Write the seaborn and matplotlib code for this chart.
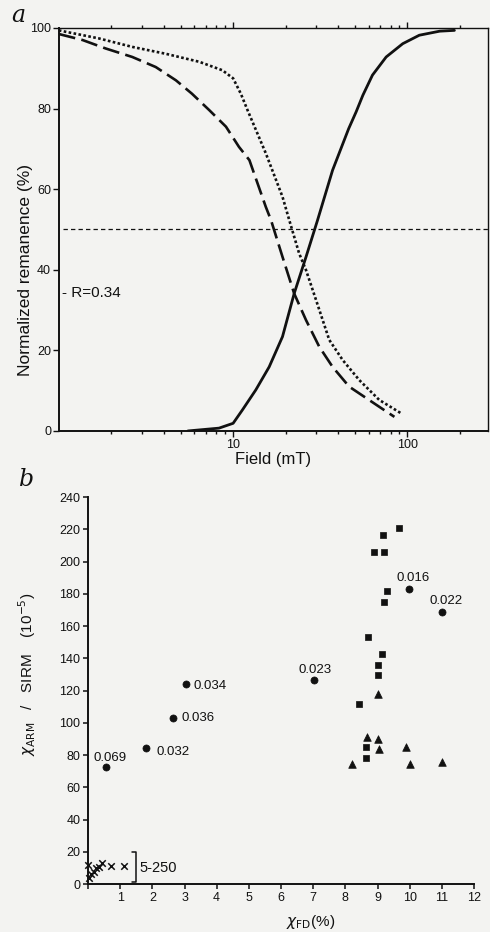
import matplotlib
matplotlib.use("Agg")
import matplotlib.pyplot as plt
import seaborn as sns

# ---------------------------------------------------------------
# panel a : normalized remanence vs field (log)
# ---------------------------------------------------------------
field_dot = [1.0, 1.7, 2.64, 4.1, 6.4, 8.68, 10.0, 11.07, 12.1, 15.4, 19.2, 21.0,
             23.9, 26.2, 29.9, 35.6, 42.5, 53.0, 68.9, 91.8]
rem_dot = [99.4, 97.4, 95.3, 93.6, 91.6, 89.5, 87.5, 83.7, 79.6, 68.9, 58.1, 52.3,
           44.1, 39.9, 32.5, 22.6, 17.6, 12.6, 7.7, 4.4]

field_dash = [1.0, 1.37, 1.86, 2.64, 3.6, 4.7, 5.8, 7.3, 9.1, 10.8, 12.4, 15.4, 16.5,
              19.2, 22.4, 26.2, 31.2, 37.2, 46.3, 68.9, 84.2]
rem_dash = [98.5, 97.0, 94.9, 92.8, 90.3, 87.0, 83.7, 79.6, 75.5, 70.5, 67.2, 55.6, 52.3,
            43.2, 34.1, 27.5, 20.9, 15.9, 11.0, 6.0, 3.5]

field_solid = [5.5, 8.3, 10.0, 11.3, 13.5, 16.1, 19.2, 22.4, 26.2, 30.5, 37.2, 46.0,
               50.8, 55.5, 63.0, 75.5, 94.0, 117.0, 153.0, 186.0]
rem_solid = [0.0, 0.7, 1.9, 5.2, 10.2, 15.9, 23.4, 34.1, 43.2, 52.3, 64.7, 75.0,
             79.2, 83.3, 88.3, 92.8, 96.1, 98.2, 99.2, 99.4]

half_level = 50
r_text = "- R=0.34"

# ---------------------------------------------------------------
# panel b : chi_ARM/SIRM vs chi_FD
# ---------------------------------------------------------------
circ_x = [0.55, 1.81, 2.63, 3.05, 7.03, 9.98, 10.99]
circ_y = [72.4, 84.3, 103.0, 124.0, 126.3, 183.0, 169.0]
circ_lab = ["0.069", "0.032", "0.036", "0.034", "0.023", "0.016", "0.022"]

sq_x = [9.66, 9.18, 8.89, 9.20, 9.28, 9.20, 8.70, 9.13, 9.0, 9.0, 8.42, 8.63, 8.63]
sq_y = [221, 216.6, 206, 206, 182, 174.7, 153, 142.4, 135.8, 129.8, 111.8, 84.8, 78]

tri_x = [9.01, 8.67, 9.02, 9.06, 9.89, 8.2, 10.01, 11.0]
tri_y = [117.6, 91, 90, 83.7, 84.8, 74.6, 74.6, 75.9]

cross_x = [0.01, 0.08, 0.04, 0.18, 0.25, 0.35, 0.43, 0.73, 1.12]
cross_y = [11.8, 6.2, 3.5, 7.6, 9.7, 10.7, 12.8, 11.2, 11.2]

bracket_x = [1.36, 1.49, 1.49, 1.36]
bracket_y = [19.6, 19.6, 1.0, 1.0]
bracket_lab = "5-250"

# label offsets (points) for the circle annotations
lab_off = [(-8.9, 6.8), (7.7, -2.6), (6.5, 0), (5, -1.4), (-11.6, 7.4), (-9.2, 8), (-9, 7.6)]

sns.set_theme(style="ticks")
plt.rcParams['font.family'] = ['Liberation Sans', 'DejaVu Sans']
plt.rcParams['mathtext.fontset'] = 'dejavusans'
ink = '#111111'
bg = '#f3f3f1'

fig = plt.figure(figsize=(4.9, 9.32), dpi=100, facecolor=bg)

# ======================= panel a ==============================
ax = fig.add_axes([0.120, 0.5376, 0.876, 0.4324], facecolor=bg)

sns.lineplot(x=field_solid, y=rem_solid, ax=ax, color=ink, lw=2.0, sort=False)
sns.lineplot(x=field_dash, y=rem_dash, ax=ax, color=ink, lw=1.9,
             linestyle=(0, (6.4, 2.4)), sort=False)
sns.lineplot(x=field_dot, y=rem_dot, ax=ax, color=ink, lw=1.9,
             linestyle=(0, (1, 0.9)), sort=False)
ax.axhline(half_level, xmin=0.01, xmax=1, color=ink, lw=0.9, linestyle=(0, (3.5, 2.5)))

ax.set_xscale('log')
ax.set_xlim(1, 290)
ax.set_ylim(0, 100)
ax.set_yticks([0, 20, 40, 60, 80, 100])
ax.set_xticks([10, 100])
ax.set_xticklabels(['10', '100'])
ax.tick_params(axis='both', which='major', labelsize=9, direction='out', length=4,
               width=1, color=ink, labelcolor=ink, pad=1.5)
ax.tick_params(axis='x', which='minor', direction='out', length=2.5, width=1, color=ink)
ax.tick_params(axis='x', which='both', top=True, labeltop=False)
for s in ax.spines.values():
    s.set_color(ink)
    s.set_linewidth(1.0)
ax.spines['left'].set_linewidth(1.4)
ax.spines['bottom'].set_linewidth(1.4)

ax.text(1.05, 34.2, r_text, fontsize=11, color=ink, va='center', ha='left')

ax.set_ylabel("Normalized remanence (%)", fontsize=12.5, color=ink)
ax.yaxis.set_label_coords(-0.061, 0.40)
ax.set_xlabel("Field (mT)", fontsize=12, color=ink, va='center')
ax.xaxis.set_label_coords(0.50, -0.072)
ax.text(-0.11, 1.03, "a", transform=ax.transAxes, fontsize=17, style='italic',
        family='DejaVu Serif', color=ink, va='center', ha='left')

# ======================= panel b ==============================
bx = fig.add_axes([0.1796, 0.0515, 0.7878, 0.4152], facecolor=bg)

sns.scatterplot(x=circ_x, y=circ_y, ax=bx, marker='o', s=26, color=ink,
                edgecolor=ink, linewidth=0.5)
sns.scatterplot(x=sq_x, y=sq_y, ax=bx, marker='s', s=22, color=ink,
                edgecolor=ink, linewidth=0.5)
sns.scatterplot(x=tri_x, y=tri_y, ax=bx, marker='^', s=30, color=ink,
                edgecolor=ink, linewidth=0.5)
sns.scatterplot(x=cross_x, y=cross_y, ax=bx, marker='x', s=22, color=ink,
                linewidth=1.1, clip_on=False)

for xv, yv, lab, off in zip(circ_x, circ_y, circ_lab, lab_off):
    bx.annotate(lab, (xv, yv), xytext=off, textcoords='offset points',
                fontsize=9.5, color=ink, ha='left', va='center')

bx.plot(bracket_x, bracket_y, color=ink, lw=1.1)
bx.text(1.61, 10.1, bracket_lab, fontsize=10.5, color=ink, ha='left', va='center')

bx.set_xlim(0, 12)
bx.set_ylim(0, 240)
bx.set_xticks(range(0, 13))
bx.set_xticklabels([''] + [str(i) for i in range(1, 13)])
bx.set_yticks(range(0, 241, 20))
bx.tick_params(axis='both', labelsize=9, direction='out', length=3.5, width=1.1,
               color=ink, labelcolor=ink, pad=2)
sns.despine(ax=bx)
for s in ['left', 'bottom']:
    bx.spines[s].set_color(ink)
    bx.spines[s].set_linewidth(1.4)

bx.set_ylabel(r"$\chi_{\rm ARM}$   /   SIRM    (10$^{-5}$)", fontsize=11, color=ink)
bx.yaxis.set_label_coords(-0.13, 0.541)
bx.set_xlabel(r"$\chi_{\rm FD}$(%)", fontsize=11, color=ink, va='center')
bx.xaxis.set_label_coords(0.578, -0.098)
bx.text(-0.18, 1.045, "b", transform=bx.transAxes, fontsize=17, style='italic',
        family='DejaVu Serif', color=ink, va='center', ha='left')

fig.savefig("out.png", dpi=100, facecolor=bg)
